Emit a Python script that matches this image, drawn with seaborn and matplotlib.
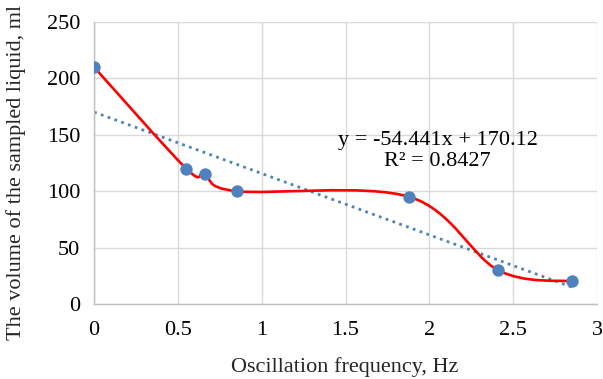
import numpy as np
import pandas as pd
import matplotlib
matplotlib.use("Agg")
import matplotlib.pyplot as plt
from matplotlib.path import Path
from matplotlib.patches import PathPatch
import seaborn as sns

freq = [0, 0.55, 0.66, 0.85, 1.88, 2.41, 2.85]
volume = [210, 120, 115, 100, 95, 30, 20]
x_ticks = [0, 0.5, 1, 1.5, 2, 2.5, 3]
y_ticks = [0, 50, 100, 150, 200, 250]
eq_text = "y = -54.441x + 170.12\nR² = 0.8427"

sns.set_theme(style="white")
plt.rcParams['font.family'] = ['Liberation Serif', 'DejaVu Serif']

df = pd.DataFrame({"freq": freq, "volume": volume})

fig = plt.figure(figsize=(6.03, 3.79), dpi=100)
ax = fig.add_axes([0.156, 0.198, 0.834, 0.744])

ax.set_xlim(0, 3)
ax.set_ylim(0, 250)
ax.set_xticks(x_ticks)
ax.set_yticks(y_ticks)
ax.set_xticklabels([f"{t:g}" for t in x_ticks])
ax.grid(True, color="#d9d9d9", linewidth=1.0)
ax.set_axisbelow(True)
for s in ["top", "right"]:
    ax.spines[s].set_visible(False)
for s in ["left", "bottom"]:
    ax.spines[s].set_color("#bfbfbf")
    ax.spines[s].set_linewidth(1.0)

# Smoothed (Excel-style Catmull-Rom Bezier) line through the points
pts = np.column_stack([freq, volume]).astype(float)
n = len(pts)
verts = [tuple(pts[0])]
codes = [Path.MOVETO]
for i in range(n - 1):
    p0 = pts[i - 1] if i > 0 else pts[i]
    p1 = pts[i]
    p2 = pts[i + 1]
    p3 = pts[i + 2] if i + 2 < n else pts[i + 1]
    c1 = p1 + (p2 - p0) / 6.0
    c2 = p2 - (p3 - p1) / 6.0
    verts += [tuple(c1), tuple(c2), tuple(p2)]
    codes += [Path.CURVE4] * 3
ax.add_patch(PathPatch(Path(verts, codes), facecolor="none", edgecolor="#ff0000",
                       linewidth=1.9, zorder=3, capstyle="round", joinstyle="round"))

# Linear trendline
sns.regplot(data=df, x="freq", y="volume", ax=ax, scatter=False, ci=None, truncate=True,
            line_kws=dict(color="#4f81bd", linestyle=(0, (1, 1.6)), linewidth=2.0, zorder=2))

sns.scatterplot(data=df, x="freq", y="volume", ax=ax, color="#4f81bd", s=80,
                edgecolor="#4f81bd", linewidth=0, zorder=4)

fs = 16
ax.set_xlim(0, 3)
ax.set_ylim(0, 250)
ax.tick_params(axis="both", labelsize=fs, colors="black", length=0)
ax.tick_params(axis="x", pad=12)
ax.tick_params(axis="y", pad=10)
ax.set_xlabel("Oscillation frequency, Hz", fontsize=fs, va="center")
ax.xaxis.set_label_coords(0.499, -0.222)
ax.set_ylabel("The volume of the sampled liquid, ml", fontsize=fs, va="center")
ax.yaxis.set_label_coords(-0.155, 0.468)

ax.text(2.05, 135.5, eq_text, ha="center", va="center", fontsize=fs,
        linespacing=1.12, color="black")

fig.savefig("out.png", dpi=100)
